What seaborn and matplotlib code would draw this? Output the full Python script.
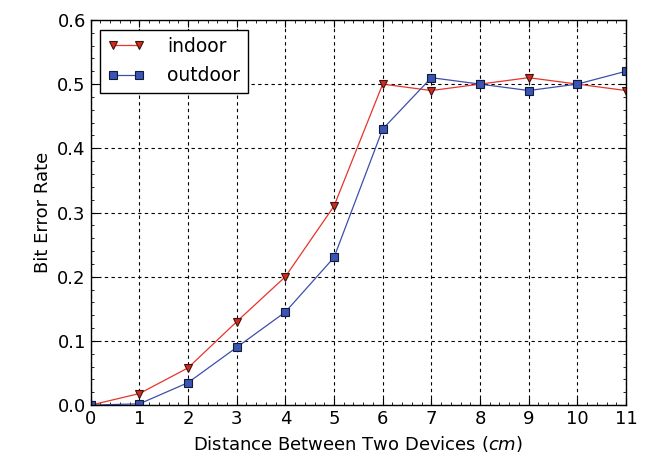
import matplotlib

matplotlib.use("Agg")

import matplotlib.pyplot as plt
import pandas as pd
import seaborn as sns
from matplotlib.ticker import AutoMinorLocator, FormatStrFormatter, MultipleLocator

distance = [0, 1, 2, 3, 4, 5, 6, 7, 8, 9, 10, 11]
indoor = [0.0, 0.018, 0.058, 0.13, 0.2, 0.31, 0.5, 0.49, 0.5, 0.51, 0.5, 0.49]
outdoor = [0.0, 0.002, 0.035, 0.09, 0.145, 0.23, 0.43, 0.51, 0.5, 0.49, 0.5, 0.52]

df = pd.DataFrame({"distance": distance, "indoor": indoor, "outdoor": outdoor})

sns.set_theme(style="ticks")
plt.rcParams["font.family"] = ["DejaVu Sans"]
plt.rcParams["text.color"] = "black"
plt.rcParams["axes.labelcolor"] = "black"

fig = plt.figure(figsize=(6.48, 4.63), dpi=100)
ax = fig.add_axes([0.14, 0.125, 0.826, 0.832])

sns.lineplot(data=df, x="distance", y="indoor", ax=ax, color="#e8342c", linewidth=0.9,
             marker="v", markersize=6, markerfacecolor="#d42a1e", markeredgecolor="#3a1510",
             markeredgewidth=0.8, label="indoor")
sns.lineplot(data=df, x="distance", y="outdoor", ax=ax, color="#3d4fa8", linewidth=0.9,
             marker="s", markersize=5.5, markerfacecolor="#3a55b4", markeredgecolor="#101a3a",
             markeredgewidth=0.8, label="outdoor")

ax.set_xlim(0, 11)
ax.set_ylim(0, 0.6)
ax.xaxis.set_major_locator(MultipleLocator(1))
ax.yaxis.set_major_locator(MultipleLocator(0.1))
ax.yaxis.set_major_formatter(FormatStrFormatter("%.1f"))
ax.xaxis.set_minor_locator(AutoMinorLocator(5))
ax.yaxis.set_minor_locator(AutoMinorLocator(5))
ax.tick_params(which="both", direction="in", top=True, right=True, colors="black", labelsize=13)
ax.tick_params(which="major", length=5, width=0.8)
ax.tick_params(which="minor", length=2.5, width=0.6)
ax.grid(True, which="major", color="black", linestyle=(0, (3, 3)), linewidth=0.8)
for s in ax.spines.values():
    s.set_color("black")
    s.set_linewidth(1.0)

ax.set_xlabel("Distance Between Two Devices ($cm$)", fontsize=13)
ax.set_ylabel("Bit Error Rate", fontsize=13)

leg = ax.legend(loc="upper left", fontsize=13.5, frameon=True, fancybox=False, numpoints=2,
                borderpad=0.4, handlelength=2.0, handletextpad=1.2, labelspacing=0.55,
                bbox_to_anchor=(0.017, 0.975), borderaxespad=0.0)
leg.get_frame().set_edgecolor("black")
leg.get_frame().set_linewidth(1.0)
leg.get_frame().set_alpha(1.0)

plt.savefig("out.png", dpi=100)
